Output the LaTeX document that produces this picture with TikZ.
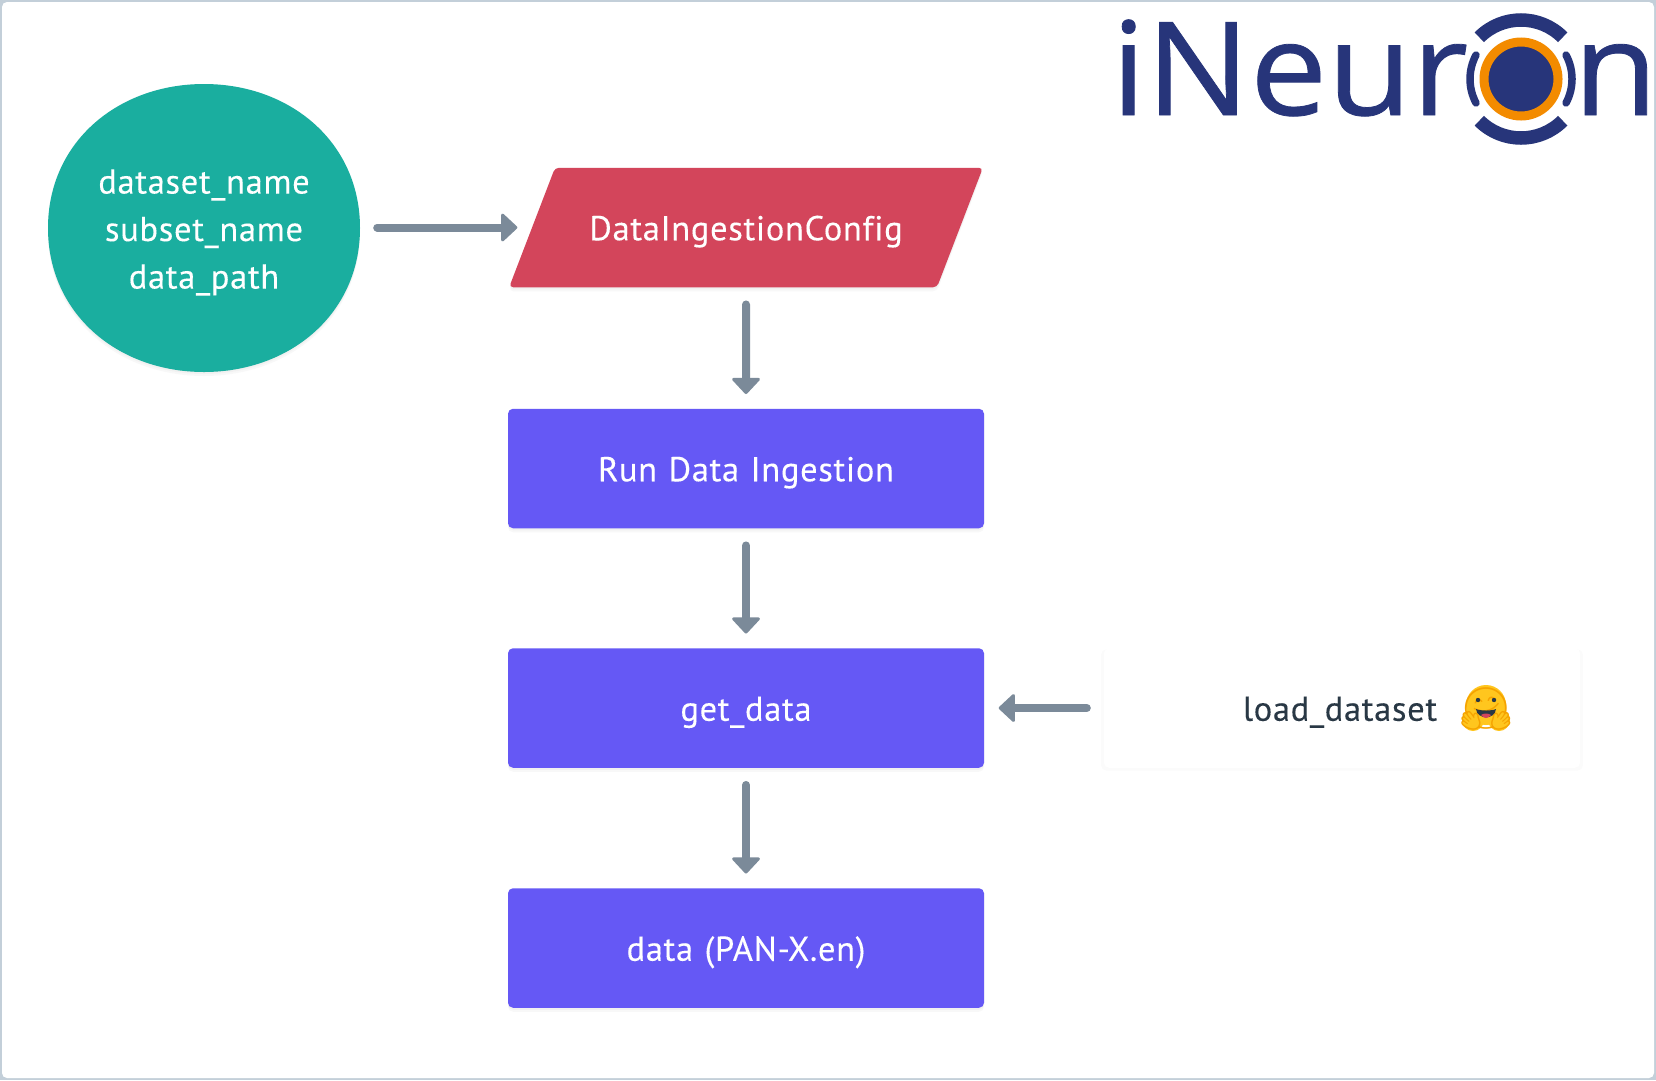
\documentclass[tikz,border=0pt]{standalone}
\usepackage{fontspec}
\usepackage{xcolor}
\setmainfont[LetterSpace=2,FakeBold=0.2,Ligatures=NoCommon]{PT Sans}
\newfontfamily\logofont[FakeBold=0.6,FakeStretch=1.06]{Open Sans}
\newfontfamily\emojifont{Noto Emoji}
\usetikzlibrary{arrows.meta,shapes.geometric,shadows}
\definecolor{framec}{HTML}{C3CFD9}
\definecolor{tealc}{HTML}{1AAE9F}
\definecolor{redc}{HTML}{D3455B}
\definecolor{purplec}{HTML}{6558F5}
\definecolor{slatec}{HTML}{7B8A99}
\definecolor{inkc}{HTML}{293845}
\definecolor{navyc}{HTML}{27357A}
\definecolor{orangec}{HTML}{F38B00}
\definecolor{huggyc}{HTML}{FFC61E}
\definecolor{fingerc}{HTML}{F5A300}
\newcommand{\lblfont}{\fontsize{34.5}{47.5}\selectfont}
\newcommand{\logosize}{\fontsize{130}{130}\logofont}
\tikzset{
  softshadow/.style={drop shadow={opacity=.05,shadow xshift=0pt,shadow yshift=-2pt},
    drop shadow={opacity=.05,shadow xshift=0pt,shadow yshift=-4pt}},
  ebox/.style={align=center,inner sep=0pt,text=white,font=\lblfont,text height=72.5pt,text depth=47pt},
  prect/.style={ebox,softshadow,rectangle,rounded corners=5pt,fill=purplec,text width=476pt},
  eflow/.style={-{Triangle[length=17pt,width=31pt,round,line width=3pt]},line width=8pt,draw=slatec,line cap=round,shorten >=14.5pt,shorten <=17pt},
  logoarc/.style={draw=navyc,line width=13.5pt},
  logotick/.style={draw=navyc,line width=7.5pt,line cap=round},
}
\begin{document}
\begin{tikzpicture}[x=1pt,y=-1pt]
\useasboundingbox (0,0) rectangle (1656,1080);
% frame round the whole sheet
\fill[framec] (0,0) rectangle (1656,1080);
\fill[white,rounded corners=5pt] (2,2) rectangle (1654,1078);
% left: the inputs
\fill[tealc,softshadow] (48,228) .. controls (48,142) and (118,84) .. (204,84)
  .. controls (290,84) and (360,142) .. (360,228)
  .. controls (360,314) and (290,372) .. (204,372)
  .. controls (118,372) and (48,314) .. (48,228) -- cycle;
\node[align=center,inner sep=0pt,text=white,font=\lblfont,minimum width=312pt,minimum height=288pt] (args) at (204,232.5) {dataset\_name\\subset\_name\\data\_path};
% middle: the config and the pipeline under it
\node[ebox,softshadow,trapezium,trapezium left angle=69,trapezium right angle=111,rounded corners=4pt,fill=redc,text width=382pt] (cfg) at (746,227.5) {DataIngestionConfig};
\node[prect] (run) at (746,468.5) {Run Data Ingestion};
\node[prect] (get) at (746,708) {get\_data};
\node[prect] (data) at (746,948) {data (PAN-X.en)};
% right: the loader
\node[ebox,rectangle,rounded corners=5pt,fill=white,text=inkc,text width=476pt,align=left,
  drop shadow={opacity=.03,shadow scale=1.012,shadow xshift=0pt,shadow yshift=-2pt}] (load) at (1342,708) {\hspace*{139pt}load\_dataset};
% the face beside the loader text
\fill[huggyc] (1486,705) circle[radius=20];
\fill[huggyc] (1473,720) circle[radius=11];
\fill[huggyc] (1499,720) circle[radius=11];
\node[inner sep=0pt,text=fingerc,font=\fontsize{41}{41}\emojifont] (hug) at (1486,709) {\symbol{"1F917}};
\fill[inkc] (1478,700) circle[radius=2.2] (1494,700) circle[radius=2.2];
\fill[inkc] (1476,709) .. controls (1480,711) and (1492,711) .. (1496,709) .. controls (1495,720) and (1477,720) .. (1476,709) -- cycle;
\fill[redc] (1481,715) .. controls (1484,713) and (1488,713) .. (1491,715) .. controls (1488,719) and (1484,719) .. (1481,715) -- cycle;
% connectors
\draw[eflow] (args.east |- cfg.west) -- (cfg.west);
\draw[eflow] (cfg) -- (run);
\draw[eflow] (run) -- (get);
\draw[eflow] (get) -- (data);
\draw[eflow] (load.west) -- (get.east);
% logo, top right
\node[anchor=base west,inner sep=0pt,text=navyc,font=\logosize] (logoa) at (1111,115) {iNeur};
\node[anchor=base west,inner sep=0pt,text=navyc,font=\logosize] (logob) at (1573,115) {n};
\fill[navyc] (1521,79) circle[radius=33];
\draw[orangec,line width=9pt] (1521,79) circle[radius=37];
\draw[logoarc] (1521,79) ++(135:59) arc[start angle=135,end angle=45,radius=59];
\draw[logoarc] (1521,79) ++(-135:59) arc[start angle=-135,end angle=-45,radius=59];
\draw[logotick] (1521,79) ++(152:51) arc[start angle=152,end angle=208,radius=51];
\draw[logotick] (1521,79) ++(28:51) arc[start angle=28,end angle=-28,radius=51];
\end{tikzpicture}
\end{document}
